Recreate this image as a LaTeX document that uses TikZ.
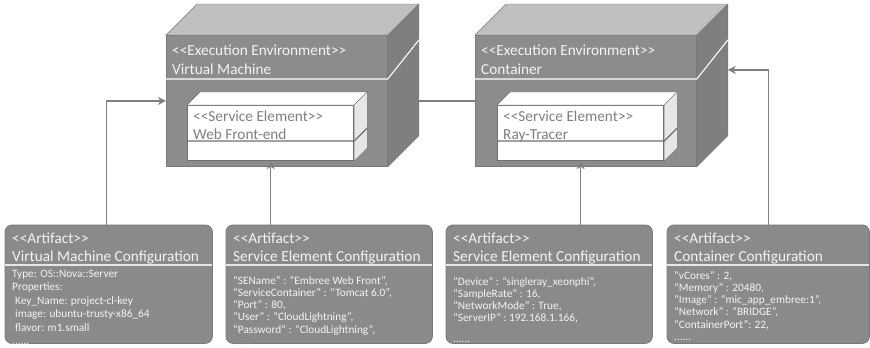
\documentclass[tikz,border=0pt]{standalone}
\usepackage{fontspec}
\setmainfont{Carlito}
\usetikzlibrary{arrows.meta,calc}

\definecolor{envfront}{HTML}{8C8C8C}
\definecolor{envtop}{HTML}{BFBFBF}
\definecolor{envside}{HTML}{7F7F7F}
\definecolor{envedge}{HTML}{7A7A7A}
\definecolor{seedge}{HTML}{707070}
\definecolor{seside}{HTML}{E6E6E6}
\definecolor{setext}{HTML}{7F7F7F}
\definecolor{artfill}{HTML}{8A8A8A}
\definecolor{artedge}{HTML}{787878}
\definecolor{lighttext}{HTML}{F4F4F4}
\definecolor{wire}{HTML}{7F7F7F}

% guillemet-free angle brackets (the TeX mapping would turn << into a guillemet)
\newcommand\stlt{<\kern0pt<}
\newcommand\stgt{>\kern0pt>}

% top and right faces of a box drawn behind the front face #1, depth #2
\newcommand\boxfaces[5]{%
  \filldraw[fill=#3,draw=#5] (#1.north west) -- ++(#2,-#2) -- ([shift={(#2,-#2)}]#1.north east) -- (#1.north east) -- cycle;
  \filldraw[fill=#4,draw=#5] (#1.north east) -- ([shift={(#2,-#2)}]#1.north east) -- ([shift={(#2,-#2)}]#1.south east) -- (#1.south east) -- cycle;}

% artifact outline: three rounded corners, square lower left
\newcommand\artshape[1]{%
  \filldraw[fill=artfill,draw=artedge,line width=0.8pt] (#1.south) [rounded corners=7pt] -- (#1.south east) -- (#1.north east) -- (#1.north west) -- (#1.south west) [sharp corners] -- cycle;
  \draw[draw=seside,line width=1.6pt] ($(#1.north west)+(0,40)$) -- ($(#1.north east)+(0,40)$);}

\tikzset{
  envface/.style={draw=envedge, fill=envfront, line width=0.8pt, inner sep=0pt,
    minimum width=221pt, minimum height=131pt, anchor=north west},
  seface/.style={draw=seedge, fill=white, line width=1.2pt, inner sep=0pt,
    minimum width=166pt, minimum height=55pt, anchor=north west},
  artbox/.style={inner sep=0pt, minimum height=118pt, anchor=north west},
  envtitle/.style={text=lighttext, font=\fontsize{15.3}{19}\selectfont, align=left, inner sep=0pt, anchor=north west},
  setitle/.style={text=setext, font=\fontsize{15.3}{18}\selectfont, align=left, inner sep=0pt, anchor=north west},
  arttitle/.style={text=lighttext, font=\fontsize{15.3}{18}\selectfont, align=left, inner sep=0pt, anchor=north west},
  artbody/.style={text=lighttext, font=\fontsize{11.3}{#1}\selectfont, align=left, inner sep=0pt, anchor=north west},
  artbody/.default=12.2,
  wireline/.style={draw=wire, line width=1.3pt},
  wirearrow/.style={wireline, -{Stealth[length=8pt,width=8pt,inset=2.5pt]}},
}

\begin{document}
\begin{tikzpicture}[x=1pt,y=-1pt]
\useasboundingbox (0,0) rectangle (870,348);

% ---------- execution environments ----------
\node[envface] (vm) at (166,35) {};
\boxfaces{vm}{31}{envtop}{envside}{envedge}
\node[envface] (ct) at (475,35) {};
\boxfaces{ct}{31}{envtop}{envside}{envedge}

\draw[white,line width=1.1pt] ($(vm.north west)+(0,44)$) -- ($(vm.north east)+(0,44)$) -- ++(31,-39);
\draw[white,line width=1.1pt] ($(ct.north west)+(0,44)$) -- ($(ct.north east)+(0,44)$) -- ++(31,-39);

\node[envtitle] (vm-t) at ($(vm.north west)+(6,10)$) {\stlt Execution Environment\stgt\\Virtual Machine};
\node[envtitle] (ct-t) at ($(ct.north west)+(6,10)$) {\stlt Execution Environment\stgt\\Container};

% ---------- service elements ----------
\node[seface] (wfe) at (187,105) {};
\boxfaces{wfe}{13}{white}{seside}{seedge}
\draw[seedge,line width=1.2pt] ($(wfe.north west)+(0,36)$) -- ($(wfe.north east)+(0,36)$) -- ++(13,-13);
\node[setitle] (wfe-t) at ($(wfe.north west)+(6,6)$) {\stlt Service Element\stgt\\Web Front-end};

\node[seface] (rt) at (497,105) {};
\boxfaces{rt}{13}{white}{seside}{seedge}
\draw[seedge,line width=1.2pt] ($(rt.north west)+(0,36)$) -- ($(rt.north east)+(0,36)$) -- ++(13,-13);
\node[setitle] (rt-t) at ($(rt.north west)+(6,6)$) {\stlt Service Element\stgt\\Ray-Tracer};

% ---------- artifacts ----------
\node[artbox,minimum width=207pt] (a1) at (5,225) {};
\node[artbox,minimum width=206pt] (a2) at (226,225) {};
\node[artbox,minimum width=206pt] (a3) at (446,225) {};
\node[artbox,minimum width=202pt] (a4) at (667,225) {};
\artshape{a1}\artshape{a2}\artshape{a3}\artshape{a4}

\node[arttitle] (a1-t) at ($(a1.north west)+(7,7.5)$) {\stlt Artifact\stgt\\Virtual Machine Configuration};
\node[arttitle] (a2-t) at ($(a2.north west)+(7,7.5)$) {\stlt Artifact\stgt\\Service Element Configuration};
\node[arttitle] (a3-t) at ($(a3.north west)+(7,7.5)$) {\stlt Artifact\stgt\\Service Element Configuration};
\node[arttitle] (a4-t) at ($(a4.north west)+(7,7.5)$) {\stlt Artifact\stgt\\Container Configuration};

\node[artbody=13.4] (a1-b) at ($(a1.north west)+(7,45)$) {Type: OS::Nova::Server\\Properties:\\\hspace{3pt}Key\_Name: project-cl-key\\\hspace{3pt}image: ubuntu-trusty-x86\_64\\\hspace{3pt}flavor: m1.small\\......};
\node[artbody] (a2-b) at ($(a2.north west)+(7,51)$) {“SEName” : “Embree Web Front”,\\“ServiceContainer” : “Tomcat 6.0”,\\“Port” : 80,\\“User” : “CloudLightning”,\\“Password” : “CloudLightning”,\\......};
\node[artbody] (a3-b) at ($(a3.north west)+(7,52)$) {“Device” : “singleray\_xeonphi”,\\“SampleRate” : 16,\\“NetworkMode” : True,\\“ServerIP” : 192.168.1.166,\\[8pt]......};
\node[artbody] (a4-b) at ($(a4.north west)+(7,46)$) {“vCores” : 2,\\“Memory” : 20480,\\“Image” : “mic\_app\_embree:1”,\\“Network” : “BRIDGE”,\\“ContainerPort”: 22,\\......};

% ---------- connectors ----------
\draw[wireline] ([xshift=31pt]vm.east) -- (ct.west);
\draw[wirearrow] ([xshift=-2pt]a1.north) |- (vm.west);
\draw[wirearrow] (a2.north -| wfe.south) -- (wfe.south);
\draw[wirearrow] (a3.north -| rt.south) -- (rt.south);
\draw[wirearrow] (a4.north) |- ([shift={(31,-31)}]ct.east);
\end{tikzpicture}
\end{document}
